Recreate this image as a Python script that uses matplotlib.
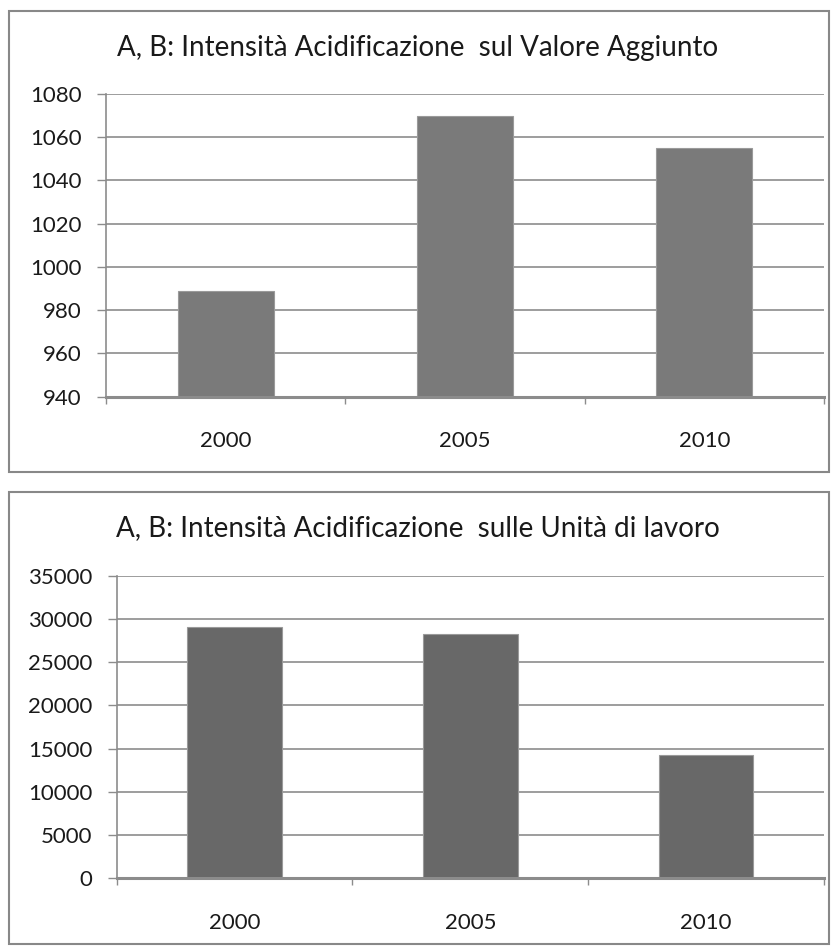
import matplotlib
matplotlib.use("Agg")
import matplotlib.pyplot as plt
from matplotlib.patches import Rectangle
import numpy as np

plt.rcParams['font.family'] = ['Lato', 'DejaVu Sans']

categories = ["2000", "2005", "2010"]
values_va = [989, 1070, 1055]
values_ul = [29100, 28300, 14300]
title_va = "A, B: Intensità Acidificazione  sul Valore Aggiunto"
title_ul = "A, B: Intensità Acidificazione  sulle Unità di lavoro"
yticks_va = [940, 960, 980, 1000, 1020, 1040, 1060, 1080]
yticks_ul = [0, 5000, 10000, 15000, 20000, 25000, 30000, 35000]

W, H = 838, 946
fig = plt.figure(figsize=(W / 100, H / 100), dpi=100)
fig.patch.set_facecolor("white")

def fx(px):
    return px / W

def fy(py):
    return 1 - py / H

# panel frames
for (x0, y0, x1, y1) in [(9, 11.5, 829, 471.5), (9, 492.5, 829, 944)]:
    fig.patches.append(Rectangle((fx(x0), fy(y1)), fx(x1) - fx(x0), fy(y0) - fy(y1),
                                 transform=fig.transFigure, fill=False,
                                 edgecolor="#888888", linewidth=1.5, zorder=0))

def make_panel(rect, vals, yticks, color, title, title_y):
    ax = fig.add_axes(rect)
    x = np.arange(len(categories))
    ax.bar(x, vals, width=0.4, color=color, edgecolor="#9a9a9a", linewidth=0.8, zorder=3)
    ax.set_xlim(-0.5, len(categories) - 0.5)
    ax.set_ylim(yticks[0], yticks[-1])
    ax.set_yticks(yticks)
    ax.set_yticklabels([str(t) for t in yticks])
    ax.set_xticks(x)
    ax.set_xticklabels(categories)
    ax.set_xticks(np.arange(len(categories) + 1) - 0.5, minor=True)
    ax.grid(axis="y", color="#8c8c8c", linewidth=1.2, zorder=0)
    for s in ["top", "right"]:
        ax.spines[s].set_visible(False)
    ax.spines["left"].set_color("#8c8c8c")
    ax.spines["left"].set_linewidth(1.2)
    ax.spines["bottom"].set_color("#8c8c8c")
    ax.spines["bottom"].set_linewidth(2.2)
    ax.spines["bottom"].set_zorder(4)
    ax.tick_params(axis="y", length=6.5, width=1.0, color="#8c8c8c", pad=11,
                   labelsize=16, labelcolor="#1a1a1a")
    ax.tick_params(axis="x", which="major", length=0, pad=25, labelsize=16,
                   labelcolor="#1a1a1a")
    ax.tick_params(axis="x", which="minor", length=5, width=1.0, color="#8c8c8c",
                   direction="out")
    fig.text(fx(418), fy(title_y), title, ha="center", va="center",
             fontsize=20, color="#1a1a1a")
    return ax

make_panel([fx(106), fy(396.7), fx(824) - fx(106), fy(94) - fy(396.7)],
           values_va, yticks_va, "#7a7a7a", title_va, 48)
make_panel([fx(116.7), fy(878.1), fx(824) - fx(116.7), fy(576) - fy(878.1)],
           values_ul, yticks_ul, "#686868", title_ul, 528)

fig.savefig("out.png", dpi=100, facecolor="white")
